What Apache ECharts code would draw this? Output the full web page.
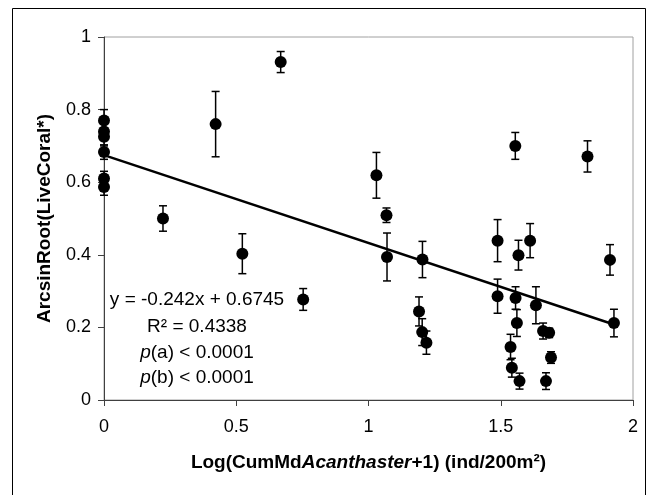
<!DOCTYPE html>
<html>
<head>
<meta charset="utf-8">
<script src="https://cdn.jsdelivr.net/npm/echarts@6/dist/echarts.min.js"></script>
<style>
  html, body { margin: 0; padding: 0; background: #fff; }
  #chart { width: 653px; height: 495px; }
</style>
</head>
<body>
<div id="chart"></div>
<script>
// Data
const xValues = [0, 0, 0, 0, 0, 0,
  0.223, 0.422, 0.523, 0.668, 0.753,
  1.030, 1.068, 1.070, 1.204, 1.191, 1.203, 1.219,
  1.555, 1.828, 1.488, 1.567, 1.611, 1.913,
  1.488, 1.556, 1.633, 1.561, 1.660, 1.683, 1.537, 1.690, 1.542, 1.571, 1.671, 1.928];
const yValues = [0.770, 0.740, 0.725, 0.683, 0.610, 0.587,
  0.500, 0.760, 0.403, 0.931, 0.277,
  0.619, 0.509, 0.394, 0.387, 0.244, 0.187, 0.158,
  0.700, 0.671, 0.439, 0.399, 0.439, 0.386,
  0.286, 0.281, 0.261, 0.212, 0.190, 0.185, 0.146, 0.117, 0.089, 0.052, 0.052, 0.212];
const errValues = [0.030, 0.025, 0.025, 0.020, 0.020, 0.023,
  0.035, 0.090, 0.055, 0.029, 0.030,
  0.063, 0.020, 0.066, 0.050, 0.040, 0.037, 0.032,
  0.037, 0.043, 0.058, 0.041, 0.047, 0.042,
  0.047, 0.031, 0.051, 0.037, 0.022, 0.013, 0.035, 0.016, 0.026, 0.022, 0.023, 0.038];
// Regression line endpoints (y = -0.242x + 0.6745)
const trendX = [0, 1.928];
const trendY = [0.6745, 0.2079];
const xTicks = [0, 0.5, 1, 1.5, 2];
const yTicks = [0, 0.2, 0.4, 0.6, 0.8, 1];
const annotationLines = ['y = -0.242x + 0.6745', 'R² = 0.4338', '{i|p}(a) < 0.0001', '{i|p}(b) < 0.0001'];

const pts = xValues.map((x, i) => [x, yValues[i]]);
const errData = xValues.map((x, i) => [x, yValues[i], errValues[i]]);
const trendData = trendX.map((x, i) => [x, trendY[i]]);

const FONT = 'Liberation Sans, Arial, sans-serif';
const chart = echarts.init(document.getElementById('chart'), null, { renderer: 'canvas' });

const annoY = [300, 327, 353, 378];
const graphics = [{
  type: 'rect', left: 10, top: 6, silent: true,
  shape: { x: 0, y: 0, width: 633, height: 488 },
  style: { fill: 'none', stroke: '#000', lineWidth: 1 }
}];
annotationLines.forEach((t, i) => {
  graphics.push({
    type: 'text', x: 197, y: annoY[i], silent: true,
    style: {
      text: t, font: '19px ' + FONT, fill: '#000',
      align: 'center', verticalAlign: 'middle',
      rich: { i: { fontStyle: 'italic', fontSize: 19, fontFamily: FONT, fill: '#000' } }
    }
  });
});

chart.setOption({
  animation: false,
  backgroundColor: '#fff',
  grid: { left: 104, right: 20, top: 37, bottom: 95, show: true, borderColor: '#a0a0a0', borderWidth: 1, backgroundColor: 'transparent' },
  xAxis: {
    type: 'value', min: xTicks[0], max: xTicks[xTicks.length - 1], interval: 0.5,
    axisLine: { show: true, onZero: false, lineStyle: { color: '#404040', width: 1 } },
    axisTick: { show: true, inside: false, length: 6, lineStyle: { color: '#404040' } },
    splitLine: { show: false },
    axisLabel: { fontSize: 18, color: '#000', fontFamily: FONT, margin: 18 },
    name: 'Log(CumMd{i|Acanthaster}+1) (ind/200m²)',
    nameLocation: 'middle', nameGap: 53,
    nameTextStyle: {
      fontSize: 19, fontWeight: 'bold', color: '#000', fontFamily: FONT,
      rich: { i: { fontSize: 19, fontWeight: 'bold', fontStyle: 'italic', color: '#000', fontFamily: FONT } }
    }
  },
  yAxis: {
    type: 'value', min: yTicks[0], max: yTicks[yTicks.length - 1], interval: 0.2,
    axisLine: { show: true, onZero: false, lineStyle: { color: '#404040', width: 1 } },
    axisTick: { show: true, inside: false, length: 6, lineStyle: { color: '#404040' } },
    splitLine: { show: false },
    axisLabel: { fontSize: 18, color: '#000', fontFamily: FONT, margin: 13 },
    name: 'ArcsinRoot(LiveCoral*)',
    nameLocation: 'middle', nameGap: 50,
    nameTextStyle: { fontSize: 19, fontWeight: 'bold', color: '#000', fontFamily: FONT }
  },
  graphic: graphics,
  series: [
    {
      type: 'line', data: trendData, symbol: 'none', silent: true, z: 2,
      lineStyle: { color: '#000', width: 2.5 }
    },
    {
      type: 'custom', data: errData, z: 3, silent: true,
      renderItem: function (params, api) {
        const x = api.value(0), y = api.value(1), e = api.value(2);
        const top = api.coord([x, y + e]);
        const bot = api.coord([x, y - e]);
        const hw = 4;
        const st = { stroke: '#000', lineWidth: 1.5 };
        return {
          type: 'group',
          children: [
            { type: 'line', shape: { x1: top[0], y1: top[1], x2: bot[0], y2: bot[1] }, style: st },
            { type: 'line', shape: { x1: top[0] - hw, y1: top[1], x2: top[0] + hw, y2: top[1] }, style: st },
            { type: 'line', shape: { x1: bot[0] - hw, y1: bot[1], x2: bot[0] + hw, y2: bot[1] }, style: st }
          ]
        };
      }
    },
    {
      type: 'scatter', data: pts, symbol: 'circle', symbolSize: 12, z: 4,
      itemStyle: { color: '#000', opacity: 1 }
    }
  ]
});
</script>
</body>
</html>
